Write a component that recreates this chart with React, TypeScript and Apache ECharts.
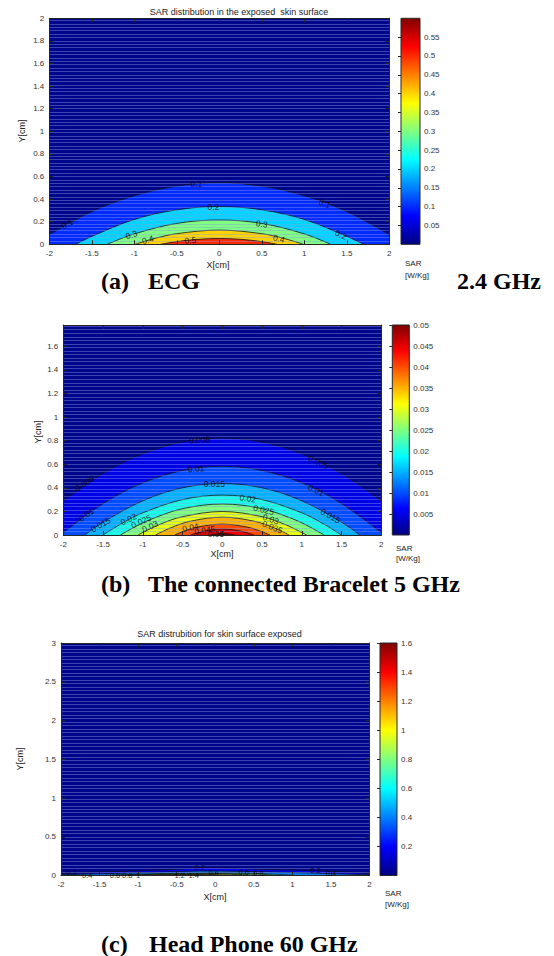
import React, { useEffect, useRef } from 'react';
import * as echarts from 'echarts';

// ---------------- Panel (a) : ECG 2.4 GHz ----------------
const A_TITLE = 'SAR distribution in the exposed  skin surface';
const A_X_AXIS = [-2, 2, 0.5];
const A_Y_AXIS = [0, 2, 0.2];
const A_CBAR_AXIS = [0, 0.6, 0.05];
const A_LEVELS = [0.1, 0.2, 0.3, 0.4, 0.5];
const A_C1 = [[-2, 0.085], [-1.5, 0.29], [-1, 0.43], [-0.5, 0.515], [0, 0.545], [0.5, 0.515], [1, 0.43], [1.5, 0.29], [2, 0.085]];
const A_C2 = [[-1.69, 0], [-1.5, 0.07], [-1, 0.22], [-0.5, 0.305], [0, 0.335], [0.5, 0.305], [1, 0.22], [1.5, 0.07], [1.7, 0]];
const A_C3 = [[-1.32, 0], [-1, 0.092], [-0.5, 0.185], [0, 0.215], [0.5, 0.185], [1, 0.092], [1.31, 0]];
const A_C4 = [[-0.99, 0], [-0.75, 0.054], [-0.5, 0.094], [0, 0.126], [0.5, 0.094], [0.75, 0.054], [0.99, 0]];
const A_C5 = [[-0.69, 0], [-0.5, 0.024], [-0.25, 0.044], [0, 0.051], [0.25, 0.044], [0.5, 0.024], [0.68, 0]];
const A_LABELS = [
  [-0.27, 0.535, '0.1', 2], [1.24, 0.36, '0.1', -21], [-1.79, 0.18, '0.1', 29],
  [-0.07, 0.33, '0.2', 1], [1.43, 0.085, '0.2', -24],
  [0.5, 0.18, '0.3', -9], [-1.035, 0.085, '0.3', 19],
  [-0.84, 0.04, '0.4', 16], [0.7, 0.05, '0.4', -13],
  [-0.34, 0.036, '0.5', 4],
];

// ---------------- Panel (b) : Bracelet 5 GHz ----------------
const B_X_AXIS = [-2, 2, 0.5];
const B_Y_AXIS = [0, 1.78, 0.2];
const B_CBAR_AXIS = [0, 0.05, 0.005];
const B_LEVELS = [0.005, 0.01, 0.015, 0.02, 0.025, 0.03, 0.035, 0.04, 0.045, 0.05];
const B_C1 = [[-2, 0.29], [-1.5, 0.523], [-1, 0.689], [-0.5, 0.789], [0, 0.822], [0.5, 0.789], [1, 0.689], [1.5, 0.523], [2, 0.29]];
const B_C2 = [[-2, 0.02], [-1.5, 0.266], [-1, 0.442], [-0.5, 0.547], [0, 0.582], [0.5, 0.547], [1, 0.442], [1.5, 0.266], [2, 0.02]];
const B_C3 = [[-1.73, 0], [-1.5, 0.108], [-1, 0.29], [-0.5, 0.4], [0, 0.436], [0.5, 0.4], [1, 0.29], [1.5, 0.108], [1.73, 0]];
const B_C4 = [[-1.5, 0], [-1.25, 0.103], [-1, 0.188], [-0.5, 0.3], [0, 0.338], [0.5, 0.3], [1, 0.188], [1.25, 0.103], [1.5, 0]];
const B_C5 = [[-1.28, 0], [-1.1, 0.069], [-0.9, 0.133], [-0.5, 0.223], [0, 0.263], [0.5, 0.223], [0.9, 0.133], [1.1, 0.069], [1.28, 0]];
const B_C6 = [[-1.06, 0], [-0.8, 0.086], [-0.5, 0.155], [0, 0.199], [0.5, 0.155], [0.8, 0.086], [1.06, 0]];
const B_C7 = [[-0.84, 0], [-0.65, 0.061], [-0.4, 0.117], [0, 0.151], [0.4, 0.117], [0.65, 0.061], [0.84, 0]];
const B_C8 = [[-0.6, 0], [-0.45, 0.04], [-0.3, 0.069], [0, 0.092], [0.3, 0.069], [0.45, 0.04], [0.6, 0]];
const B_C9 = [[-0.4, 0], [-0.2, 0.0375], [0, 0.05], [0.2, 0.0375], [0.4, 0]];
const B_C10 = [[-0.15, 0], [0, 0.012], [0.15, 0]];
const B_LABELS = [
  [-0.285, 0.806, '0.005', 3], [1.21, 0.618, '0.005', -25], [-1.73, 0.436, '0.005', 32],
  [-0.33, 0.562, '0.01', 5], [1.18, 0.38, '0.01', -26], [-1.71, 0.17, '0.01', 35],
  [-0.1, 0.43, '0.015', 0], [1.36, 0.162, '0.015', -30], [-1.53, 0.087, '0.015', 30],
  [0.32, 0.31, '0.02', -8], [-1.18, 0.134, '0.02', 25],
  [0.52, 0.213, '0.025', -13], [-1.02, 0.115, '0.025', 24],
  [0.61, 0.134, '0.03', -18], [-0.91, 0.073, '0.03', 25],
  [0.63, 0.067, '0.035', -22],
  [-0.4, 0.064, '0.04', 12], [-0.22, 0.04, '0.045', 8], [-0.08, 0.008, '0.05', 0],
];

// ---------------- Panel (c) : Head Phone 60 GHz ----------------
const C_TITLE = 'SAR distrubition for skin surface exposed';
const C_X_AXIS = [-2, 2, 0.5];
const C_Y_AXIS = [0, 3, 0.5];
const C_CBAR_AXIS = [0, 1.6, 0.2];
const C_LEVELS = [0.2, 0.4, 0.6, 0.8, 1.0, 1.2, 1.4];
const C_C1 = [[-2, 0.02], [-1.5, 0.045], [-1, 0.06], [-0.5, 0.08], [-0.15, 0.1], [0.25, 0.09], [0.75, 0.075], [1.4, 0.058], [2, 0.025]];
const C_C2 = [[-2, 0.008], [-1.67, 0.018], [-1, 0.035], [-0.5, 0.05], [-0.1, 0.058], [0.5, 0.05], [1, 0.038], [1.48, 0.025], [2, 0.008]];
const C_C3 = [[-1.5, 0], [-1.15, 0.012], [-0.5, 0.03], [0, 0.035], [0.37, 0.032], [0.8, 0.015], [1.05, 0]];
const C_C4 = [[-1.3, 0], [-1, 0.01], [-0.5, 0.022], [0, 0.025], [0.55, 0.018], [0.8, 0]];
const C_C5 = [[-1.1, 0], [-0.5, 0.016], [0, 0.018], [0.4, 0.008], [0.6, 0]];
const C_C6 = [[-0.8, 0], [-0.44, 0.011], [-0.1, 0.011], [0.2, 0]];
const C_C7 = [[-0.5, 0], [-0.29, 0.006], [-0.1, 0]];
const C_LABELS = [
  [-1.86, 0.045, '0.2', 0], [-1.66, 0.006, '0.4', 0],
  [-1.3, 0.006, '0.6', 0], [-1.14, 0.006, '0.8', 0], [-1.0, 0.006, '1', 0],
  [-0.46, 0.004, '1.2', 0], [-0.28, 0.004, '1.4', 0],
  [-0.2, 0.105, '0.2', 0], [-0.02, 0.045, '0.4', 0],
  [0.37, 0.04, '0.6', 0], [0.56, 0.022, '0.8', 0],
  [1.3, 0.07, '0.2', 0], [1.5, 0.022, '0.4', 0],
];

// ---------------- styling helpers ----------------
const SANS = 'Liberation Sans, Arial, sans-serif';
const SERIF = 'Liberation Serif, Times New Roman, serif';
const AX = '#262626';
const BG = '#00068a';
const STRIPE = 'rgba(135,155,235,0.42)';

function jet(t: number) {
  const c = (v: number) => Math.round(255 * Math.max(0, Math.min(1, v)));
  return `rgb(${c(1.5 - Math.abs(4 * t - 3))},${c(1.5 - Math.abs(4 * t - 2))},${c(1.5 - Math.abs(4 * t - 1))})`;
}
const JET_STOPS = [
  { offset: 0, color: '#000080' }, { offset: 0.125, color: '#0000ff' }, { offset: 0.375, color: '#00ffff' },
  { offset: 0.625, color: '#ffff00' }, { offset: 0.875, color: '#ff0000' }, { offset: 1, color: '#800000' },
];

const PANELS = [
  { box: [49.3, 18.3, 340, 226], cbox: [401, 18.3, 19, 226], x: A_X_AXIS, y: A_Y_AXIS, cb: A_CBAR_AXIS,
    levels: A_LEVELS, contours: [A_C1, A_C2, A_C3, A_C4, A_C5], labels: A_LABELS, stripe: 0.03, hideYMax: false, cbMax: false, lf: 8.5 },
  { box: [63.3, 325, 318, 210], cbox: [392.3, 325, 17, 210], x: B_X_AXIS, y: B_Y_AXIS, cb: B_CBAR_AXIS,
    levels: B_LEVELS, contours: [B_C1, B_C2, B_C3, B_C4, B_C5, B_C6, B_C7, B_C8, B_C9, B_C10], labels: B_LABELS, stripe: 0.03, hideYMax: true, cbMax: true, lf: 8.5 },
  { box: [61, 643, 308.5, 232.5], cbox: [380, 643, 17, 232.5], x: C_X_AXIS, y: C_Y_AXIS, cb: C_CBAR_AXIS,
    levels: C_LEVELS, contours: [C_C1, C_C2, C_C3, C_C4, C_C5, C_C6, C_C7], labels: C_LABELS, stripe: 0.045, hideYMax: false, cbMax: true, lf: 7.5 },
];

function txt(text: string, x: number, y: number, size: number, o: any = {}) {
  return {
    type: 'text', x, y, rotation: o.rot || 0, z: 20,
    style: {
      text, fill: o.color || '#222', fontSize: size, fontFamily: o.family || SANS,
      fontWeight: o.weight || 'normal', align: o.align || 'left', verticalAlign: 'middle',
    },
  };
}

function buildOption() {
  const grid: any[] = [], xAxis: any[] = [], yAxis: any[] = [], series: any[] = [];
  PANELS.forEach((p) => {
    const gi = grid.length;
    grid.push({ left: p.box[0], top: p.box[1], width: p.box[2], height: p.box[3], show: true, backgroundColor: BG, borderWidth: 0 });
    const line = { show: true, onZero: false, lineStyle: { color: AX, width: 1 } };
    const tick = { show: true, inside: true, length: 4, lineStyle: { color: AX, width: 1 } };
    const lab = { color: '#333', fontSize: 8, fontFamily: SANS, margin: 5 };
    const xi = xAxis.length;
    xAxis.push({ gridIndex: gi, type: 'value', min: p.x[0], max: p.x[1], interval: p.x[2], position: 'bottom', axisLine: line, axisTick: tick, axisLabel: lab, splitLine: { show: false }, z: 4 });
    xAxis.push({ gridIndex: gi, type: 'value', min: p.x[0], max: p.x[1], interval: p.x[2], position: 'top', axisLine: line, axisTick: tick, axisLabel: { show: false }, splitLine: { show: false }, z: 4 });
    const yi = yAxis.length;
    yAxis.push({ gridIndex: gi, type: 'value', min: p.y[0], max: p.y[1], interval: p.y[2], position: 'left', axisLine: line, axisTick: tick, axisLabel: { ...lab, showMaxLabel: !p.hideYMax }, splitLine: { show: false }, z: 4 });
    yAxis.push({ gridIndex: gi, type: 'value', min: p.y[0], max: p.y[1], interval: p.y[2], position: 'right', axisLine: line, axisTick: tick, axisLabel: { show: false }, splitLine: { show: false }, z: 4 });
    yAxis.push({ gridIndex: gi, type: 'value', min: p.y[0], max: p.y[1], interval: p.stripe, position: 'left', axisLine: { show: false }, axisTick: { show: false }, axisLabel: { show: false }, splitLine: { show: true, lineStyle: { color: STRIPE, width: 1 } }, z: 3 });

    p.contours.forEach((pts, i) => {
      series.push({
        type: 'line', xAxisIndex: xi, yAxisIndex: yi, data: pts, smooth: 0.35, symbol: 'none', z: 2,
        lineStyle: { color: '#111', width: 0.8 },
        areaStyle: { color: jet(p.levels[i] / p.cb[1]), opacity: 1, origin: 'start' },
      });
    });
    series.push({
      type: 'scatter', xAxisIndex: xi, yAxisIndex: yi, symbolSize: 0, z: 6,
      itemStyle: { color: 'rgba(0,0,0,0)' },
      data: p.labels.map((l: any) => ({
        value: [l[0], l[1]],
        label: { show: true, position: 'inside', formatter: l[2], rotate: l[3], color: '#000', fontSize: p.lf, fontFamily: SANS },
      })),
    });

    const ci = grid.length;
    grid.push({ left: p.cbox[0], top: p.cbox[1], width: p.cbox[2], height: p.cbox[3], show: false });
    const cx = xAxis.length;
    xAxis.push({ gridIndex: ci, type: 'value', min: 0, max: 1, show: false });
    const cy = yAxis.length;
    yAxis.push({
      gridIndex: ci, type: 'value', min: p.cb[0], max: p.cb[1], interval: p.cb[2], position: 'right', z: 4,
      axisLine: { show: false }, axisTick: { show: true, inside: true, length: 3, lineStyle: { color: AX } },
      axisLabel: { color: '#333', fontSize: 8, fontFamily: SANS, margin: 4, showMinLabel: false, showMaxLabel: p.cbMax },
      splitLine: { show: false },
    });
    series.push({
      type: 'custom', xAxisIndex: cx, yAxisIndex: cy, data: [[0, p.cb[0], 1, p.cb[1]]], encode: { x: [0, 2], y: [1, 3] }, z: 2,
      renderItem: (_params: any, api: any) => {
        const a = api.coord([api.value(0), api.value(1)]);
        const b = api.coord([api.value(2), api.value(3)]);
        return {
          type: 'rect', shape: { x: a[0], y: b[1], width: b[0] - a[0], height: a[1] - b[1] },
          style: { fill: new echarts.graphic.LinearGradient(0, 1, 0, 0, JET_STOPS), stroke: AX, lineWidth: 1 },
        };
      },
    });
  });

  const graphic = [
    txt(A_TITLE, 239, 12, 9, { align: 'center' }),
    txt(C_TITLE, 219.5, 634, 9, { align: 'center' }),
    txt('X[cm]', 218, 265, 9, { align: 'center' }),
    txt('X[cm]', 222, 554, 9, { align: 'center' }),
    txt('X[cm]', 215, 897, 9, { align: 'center' }),
    txt('Y[cm]', 22, 131, 9, { align: 'center', rot: Math.PI / 2 }),
    txt('Y[cm]', 38, 432, 9, { align: 'center', rot: Math.PI / 2 }),
    txt('Y[cm]', 20, 759, 9, { align: 'center', rot: Math.PI / 2 }),
    txt('SAR', 405, 263, 8), txt('[W/Kg]', 405, 275, 8),
    txt('SAR', 396, 548, 8), txt('[W/Kg]', 396, 558, 8),
    txt('SAR', 385, 893, 8), txt('[W/Kg]', 385, 904, 8),
    txt('(a)', 101, 281, 24, { family: SERIF, weight: 'bold', color: '#000' }),
    txt('ECG', 148, 281, 24, { family: SERIF, weight: 'bold', color: '#000' }),
    txt('2.4 GHz', 457, 281, 24, { family: SERIF, weight: 'bold', color: '#000' }),
    txt('(b)', 101, 584, 24, { family: SERIF, weight: 'bold', color: '#000' }),
    txt('The connected Bracelet 5 GHz', 148, 584, 24, { family: SERIF, weight: 'bold', color: '#000' }),
    txt('(c)', 101, 944, 24, { family: SERIF, weight: 'bold', color: '#000' }),
    txt('Head Phone 60 GHz', 149, 944, 24, { family: SERIF, weight: 'bold', color: '#000' }),
  ];

  return { animation: false, backgroundColor: '#ffffff', grid, xAxis, yAxis, series, graphic };
}

export default function App() {
  const ref = useRef<HTMLDivElement>(null);
  useEffect(() => {
    document.body.style.margin = '0';
    const chart = echarts.init(ref.current as HTMLDivElement, undefined, { renderer: 'svg' });
    chart.setOption(buildOption() as any);
    return () => chart.dispose();
  }, []);
  return <div ref={ref} style={{ position: 'absolute', left: 0, top: 0, width: 554, height: 956 }} />;
}
